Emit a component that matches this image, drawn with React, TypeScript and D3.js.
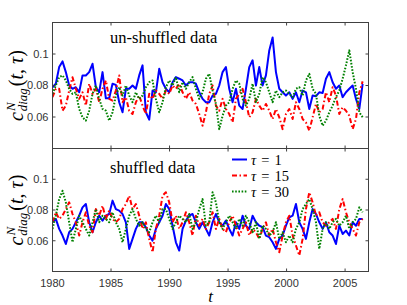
import * as d3 from "d3";

// time axis: series are sampled evenly from 1980 to mid-2006
const T_START = 1980;
const T_END = 2006.5;

const xTicks = [1980, 1985, 1990, 1995, 2000, 2005];
const yTicks = [0.06, 0.08, 0.1];
const yTickLabels = ["0.06", "0.08", "0.1"];

const panelTitles = ["un-shuffled data", "shuffled data"];
const tauLabels = ["1", "15", "30"];

// un-shuffled data
const unTau1 = [
  0.0789, 0.0811, 0.0917, 0.0953, 0.0885, 0.08, 0.0779, 0.0789, 0.0757, 0.0864,
  0.0864, 0.0885, 0.0938, 0.0789, 0.0757, 0.0885, 0.0719, 0.0719, 0.0811, 0.0804,
  0.0694, 0.063, 0.0779, 0.0779, 0.08, 0.0779, 0.0864, 0.0928, 0.063, 0.0583,
  0.0768, 0.0757, 0.0906, 0.0821, 0.0779, 0.0757, 0.0821, 0.0853, 0.0843, 0.0832,
  0.08, 0.0821, 0.0821, 0.0811, 0.0757, 0.0715, 0.0694, 0.0694, 0.0736, 0.0747,
  0.08, 0.0885, 0.0917, 0.0779, 0.0694, 0.0779, 0.0672, 0.0651, 0.0779, 0.0917,
  0.096, 0.08, 0.0917, 0.08, 0.0864, 0.1023, 0.1105, 0.0885, 0.0779, 0.0757,
  0.0736, 0.0757, 0.0715, 0.0757, 0.0694, 0.0768, 0.0757, 0.0651, 0.0736, 0.0732,
  0.0757, 0.0753, 0.0843, 0.0885, 0.0821, 0.0779, 0.08, 0.0726, 0.0757, 0.0779,
  0.08, 0.0715, 0.0651, 0.0811,
];
const unTau15 = [
  0.0726, 0.0779, 0.0779, 0.064, 0.0672, 0.0768, 0.0853, 0.0779, 0.0715, 0.0757,
  0.0672, 0.0811, 0.0747, 0.0779, 0.0694, 0.0779, 0.0832, 0.0715, 0.0704, 0.0768,
  0.0864, 0.0694, 0.0726, 0.064, 0.0619, 0.0694, 0.0736, 0.0672, 0.0619, 0.0747,
  0.0715, 0.0768, 0.0747, 0.0715, 0.0768, 0.0747, 0.08, 0.0779, 0.0811, 0.0757,
  0.0715, 0.0757, 0.0704, 0.0683, 0.0619, 0.0545, 0.063, 0.0747, 0.08, 0.0672,
  0.064, 0.0715, 0.0651, 0.0619, 0.0566, 0.0715, 0.0747, 0.0779, 0.0694, 0.0598,
  0.063, 0.0715, 0.0672, 0.064, 0.0683, 0.064, 0.0587, 0.0651, 0.0598, 0.0523,
  0.0619, 0.0651, 0.0587, 0.0694, 0.0651, 0.0587, 0.0566, 0.0513, 0.0598, 0.0683,
  0.063, 0.0651, 0.0757, 0.0694, 0.0789, 0.0736, 0.0619, 0.0662, 0.064, 0.0608,
  0.0523, 0.0587, 0.0757, 0.0826,
];
const unTau30 = [
  0.0747, 0.08, 0.0853, 0.0864, 0.0832, 0.0779, 0.0747, 0.0757, 0.0651, 0.0598,
  0.0577, 0.064, 0.0747, 0.08, 0.0715, 0.0651, 0.064, 0.0577, 0.063, 0.0736,
  0.0789, 0.0736, 0.08, 0.0736, 0.0694, 0.0757, 0.0715, 0.0736, 0.0789, 0.0821,
  0.0832, 0.0715, 0.063, 0.0694, 0.0789, 0.0832, 0.08, 0.0853, 0.0757, 0.0821,
  0.0779, 0.0821, 0.0853, 0.0779, 0.0715, 0.0757, 0.0843, 0.0874, 0.0768, 0.0683,
  0.0523, 0.0608, 0.0672, 0.0694, 0.0779, 0.0832, 0.0811, 0.0715, 0.0672, 0.0715,
  0.0811, 0.0694, 0.0747, 0.0853, 0.0821, 0.0757, 0.0694, 0.0768, 0.0726, 0.0757,
  0.0768, 0.0747, 0.0726, 0.0779, 0.0789, 0.0736, 0.0832, 0.0874, 0.0779, 0.0747,
  0.0608, 0.0545, 0.0577, 0.063, 0.0672, 0.0726, 0.0768, 0.0843, 0.0928, 0.1023,
  0.0885, 0.0779, 0.063, 0.0598,
];

// shuffled data
const shTau1 = [
  0.072, 0.0742, 0.0677, 0.0634, 0.0579, 0.0655, 0.0677, 0.072, 0.0763, 0.0817,
  0.0839, 0.072, 0.0655, 0.072, 0.0763, 0.0731, 0.0763, 0.0774, 0.0861, 0.0806,
  0.0796, 0.0774, 0.072, 0.0547, 0.0612, 0.0677, 0.072, 0.072, 0.0688, 0.0634,
  0.0601, 0.0677, 0.072, 0.0763, 0.0839, 0.0806, 0.0698, 0.059, 0.0536, 0.0677,
  0.0731, 0.0763, 0.0774, 0.072, 0.0677, 0.072, 0.0677, 0.0634, 0.072, 0.0774,
  0.072, 0.0698, 0.0731, 0.0677, 0.0634, 0.072, 0.0677, 0.0763, 0.0698, 0.0677,
  0.0763, 0.072, 0.0698, 0.0688, 0.0634, 0.0623, 0.059, 0.0547, 0.0612, 0.0634,
  0.0698, 0.0752, 0.0763, 0.0839, 0.072, 0.0677, 0.0612, 0.072, 0.0806, 0.0774,
  0.072, 0.0677, 0.072, 0.0655, 0.0634, 0.0579, 0.0698, 0.0644, 0.0666, 0.0634,
  0.072, 0.0698, 0.0742, 0.0742,
];
const shTau15 = [
  0.072, 0.0785, 0.0742, 0.0763, 0.0806, 0.085, 0.0774, 0.072, 0.0634, 0.072,
  0.0785, 0.0698, 0.0655, 0.0806, 0.0763, 0.0828, 0.0742, 0.0796, 0.0742, 0.072,
  0.0742, 0.0806, 0.0839, 0.0893, 0.0806, 0.0839, 0.0763, 0.0677, 0.072, 0.0612,
  0.0525, 0.0677, 0.0763, 0.0893, 0.0915, 0.085, 0.072, 0.0763, 0.0677, 0.072,
  0.0785, 0.072, 0.0634, 0.0763, 0.0698, 0.0742, 0.0677, 0.072, 0.0785, 0.0677,
  0.0742, 0.0677, 0.0655, 0.072, 0.0763, 0.0698, 0.0634, 0.0677, 0.072, 0.0634,
  0.0677, 0.0655, 0.0612, 0.0677, 0.072, 0.0634, 0.0677, 0.059, 0.0525, 0.0634,
  0.072, 0.0763, 0.0634, 0.0569, 0.0504, 0.0612, 0.0806, 0.0915, 0.085, 0.0763,
  0.0785, 0.072, 0.0698, 0.072, 0.0742, 0.0677, 0.0806, 0.0871, 0.0785, 0.072,
  0.0677, 0.0634, 0.072, 0.0742,
];
const shTau30 = [
  0.0677, 0.0763, 0.0871, 0.0925, 0.085, 0.072, 0.059, 0.0677, 0.0763, 0.072,
  0.0677, 0.0634, 0.072, 0.0806, 0.072, 0.0763, 0.0742, 0.072, 0.0785, 0.072,
  0.0677, 0.059, 0.0677, 0.0763, 0.0806, 0.0742, 0.0698, 0.072, 0.0677, 0.0655,
  0.072, 0.0763, 0.072, 0.0806, 0.0806, 0.0742, 0.0677, 0.072, 0.0763, 0.0742,
  0.072, 0.0774, 0.0677, 0.072, 0.0806, 0.0871, 0.0698, 0.072, 0.0915, 0.085,
  0.072, 0.0677, 0.072, 0.0763, 0.072, 0.0677, 0.0742, 0.0698, 0.0763, 0.072,
  0.0655, 0.072, 0.0612, 0.0698, 0.0677, 0.0634, 0.0655, 0.072, 0.0612, 0.0655,
  0.059, 0.0634, 0.059, 0.0677, 0.072, 0.0806, 0.0839, 0.0871, 0.0806, 0.072,
  0.0547, 0.0677, 0.072, 0.0677, 0.072, 0.0742, 0.0698, 0.072, 0.0763, 0.0677,
  0.072, 0.0742, 0.0817, 0.0785,
];

const seriesStyle = [
  { color: "#0000ff", dash: "none" },
  { color: "#ff0000", dash: "5,2.5,1.5,2.5" },
  { color: "#008000", dash: "1.6,1.6" },
];

const W = 407;
const H = 305;
const left = 52.5;
const right = 368.5;
const panels = [
  { top: 22.5, bottom: 148.5, data: [unTau1, unTau15, unTau30] },
  { top: 148.5, bottom: 271.5, data: [shTau1, shTau15, shTau30] },
];

const axisColor = "#404040";
const tickFont = "'Liberation Sans', Arial, sans-serif";
const texFont = "'Liberation Serif', 'DejaVu Serif', serif";

function YLabel({ cy }: { cy: number }) {
  return (
    <text
      transform={`translate(23,${cy}) rotate(-90)`}
      textAnchor="middle"
      fontFamily={texFont}
      fontSize={20}
      fill="#000"
    >
      <tspan fontStyle="italic">c</tspan>
      <tspan fontStyle="italic" fontSize={13} dx={1} dy={-8}>
        N
      </tspan>
      <tspan fontStyle="italic" fontSize={13} dx={-9} dy={12}>
        diag
      </tspan>
      <tspan dx={2} dy={-4}>(</tspan>
      <tspan fontStyle="italic">t</tspan>
      <tspan>, </tspan>
      <tspan fontStyle="italic">τ</tspan>
      <tspan>)</tspan>
    </text>
  );
}

export default function App() {
  const x = d3.scaleLinear().domain([1980, 2007]).range([left, right]);

  return (
    <svg
      width={W}
      height={H}
      style={{ position: "absolute", left: 0, top: 0, background: "#fff" }}
    >
      <defs>
        {panels.map((p, pi) => (
          <clipPath id={`clip-${pi}`} key={pi}>
            <rect x={left} y={p.top} width={right - left} height={p.bottom - p.top} />
          </clipPath>
        ))}
      </defs>
      {panels.map((p, pi) => {
        const y = d3.scaleLinear().domain([0.04, 0.12]).range([p.bottom, p.top]);
        return (
          <g key={pi}>
            <g clipPath={`url(#clip-${pi})`}>
              {p.data.map((vals, si) => {
                const step = (T_END - T_START) / (vals.length - 1);
                const line = d3
                  .line<number>()
                  .x((_, i) => x(T_START + i * step))
                  .y((d) => y(d));
                return (
                  <path
                    key={si}
                    d={line(vals) ?? ""}
                    fill="none"
                    stroke={seriesStyle[si].color}
                    strokeWidth={2}
                    strokeDasharray={seriesStyle[si].dash}
                    strokeLinejoin="round"
                  />
                );
              })}
            </g>
            {/* box */}
            <rect
              x={left}
              y={p.top}
              width={right - left}
              height={p.bottom - p.top}
              fill="none"
              stroke={axisColor}
              strokeWidth={1}
            />
            {/* x ticks on top and bottom, pointing inward */}
            {xTicks.map((t) => (
              <g key={t} stroke={axisColor}>
                <line x1={x(t)} x2={x(t)} y1={p.bottom} y2={p.bottom - 3} />
                <line x1={x(t)} x2={x(t)} y1={p.top} y2={p.top + 3} />
              </g>
            ))}
            {yTicks.map((t, i) => (
              <g key={t}>
                <line x1={left} x2={left + 3} y1={y(t)} y2={y(t)} stroke={axisColor} />
                <line x1={right} x2={right - 3} y1={y(t)} y2={y(t)} stroke={axisColor} />
                <text
                  x={left - 4}
                  y={y(t)}
                  dy="0.35em"
                  textAnchor="end"
                  fontFamily={tickFont}
                  fontSize={11}
                  fill="#333"
                >
                  {yTickLabels[i]}
                </text>
              </g>
            ))}
            <text
              x={110}
              y={p.top + (pi === 0 ? 20 : 24)}
              fontFamily={texFont}
              fontSize={16.5}
              fill="#000"
            >
              {panelTitles[pi]}
            </text>
            <YLabel cy={(p.top + p.bottom) / 2} />
          </g>
        );
      })}
      {/* x tick labels */}
      {xTicks.map((t) => (
        <text
          key={t}
          x={x(t)}
          y={287}
          textAnchor="middle"
          fontFamily={tickFont}
          fontSize={11}
          fill="#333"
        >
          {t}
        </text>
      ))}
      <text
        x={(left + right) / 2}
        y={302}
        textAnchor="middle"
        fontFamily={texFont}
        fontStyle="italic"
        fontSize={17}
      >
        t
      </text>
      {/* legend */}
      {tauLabels.map((lab, i) => {
        const ly = 159.5 + i * 16;
        return (
          <g key={lab}>
            <line
              x1={232}
              x2={247}
              y1={ly}
              y2={ly}
              stroke={seriesStyle[i].color}
              strokeWidth={2}
              strokeDasharray={seriesStyle[i].dash}
            />
            <text x={251} y={ly + 5} fontFamily={texFont} fontSize={14.5} fill="#000">
              <tspan fontStyle="italic">τ</tspan>
              <tspan dx={5}>=</tspan>
              <tspan dx={5}>{lab}</tspan>
            </text>
          </g>
        );
      })}
    </svg>
  );
}
